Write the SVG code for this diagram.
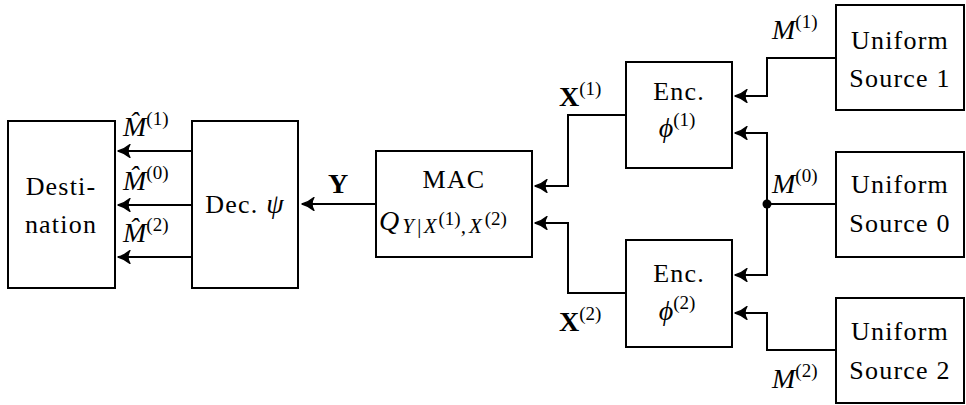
<svg xmlns="http://www.w3.org/2000/svg" width="966" height="405" viewBox="0 0 966 405">
<style>
.box{fill:#fff;stroke:#000;stroke-width:2}
.ln{fill:none;stroke:#000;stroke-width:2}
.t{font-family:"Liberation Serif",serif;font-size:26px;letter-spacing:1.2px;fill:#000}
.m{font-family:"Liberation Serif",serif;font-size:28px;font-style:italic;fill:#000}
.up{font-style:normal;font-weight:normal;font-size:19px;letter-spacing:0}
.b{font-family:"Liberation Serif",serif;font-size:28px;font-weight:bold;fill:#000}
</style>
<defs>
<marker id="ah" viewBox="-13 -7 14 14" refX="0" refY="0" markerWidth="14" markerHeight="14" markerUnits="userSpaceOnUse" orient="auto">
<path d="M0,0 Q-6,-1.5 -12,-6.5 Q-8,0 -12,6.5 Q-6,1.5 0,0 Z" fill="#000" stroke="#000" stroke-width="1.3" stroke-linejoin="round"/>
</marker>
</defs>
<rect width="966" height="405" fill="#fff"/>
<g id="connectors">
<line class="ln" x1="192" y1="151" x2="118" y2="151" marker-end="url(#ah)"/>
<line class="ln" x1="192" y1="205" x2="118" y2="205" marker-end="url(#ah)"/>
<line class="ln" x1="192" y1="257" x2="118" y2="257" marker-end="url(#ah)"/>
<line class="ln" x1="376" y1="204" x2="302" y2="204" marker-end="url(#ah)"/>
<polyline class="ln" points="626,115 568,115 568,186 535,186" marker-end="url(#ah)"/>
<polyline class="ln" points="626,293 568,293 568,223 535,223" marker-end="url(#ah)"/>
<polyline class="ln" points="836,58 767,58 767,96 735,96" marker-end="url(#ah)"/>
<polyline class="ln" points="767,204 767,133 735,133" marker-end="url(#ah)"/>
<polyline class="ln" points="767,204 767,275 735,275" marker-end="url(#ah)"/>
<line class="ln" x1="836" y1="204" x2="767" y2="204"/>
<polyline class="ln" points="836,350 767,350 767,313 735,313" marker-end="url(#ah)"/>
<circle cx="767" cy="204" r="4.5" fill="#000"/>
<text class="m" x="123" y="136">M̂<tspan class="up" dy="-11">(1)</tspan></text>
<text class="m" x="123" y="190">M̂<tspan class="up" dy="-11">(0)</tspan></text>
<text class="m" x="123" y="242">M̂<tspan class="up" dy="-11">(2)</tspan></text>
<text class="b" x="338" y="193" text-anchor="middle">Y</text>
<text class="b" x="559" y="106">X<tspan class="up" dy="-11">(1)</tspan></text>
<text class="b" x="559" y="331">X<tspan class="up" dy="-11">(2)</tspan></text>
<text class="m" x="772" y="39">M<tspan class="up" dy="-11">(1)</tspan></text>
<text class="m" x="772" y="193">M<tspan class="up" dy="-11">(0)</tspan></text>
<text class="m" x="772" y="388">M<tspan class="up" dy="-11">(2)</tspan></text>
</g>
<g id="destination">
<rect class="box" x="8" y="121" width="107" height="167"/>
<text class="t" x="61" y="195" text-anchor="middle">Desti-</text>
<text class="t" x="61" y="233" text-anchor="middle">nation</text>
</g>
<g id="decoder">
<rect class="box" x="192" y="121" width="106" height="167"/>
<text class="t" x="245" y="213" text-anchor="middle">Dec. <tspan font-style="italic" font-size="28">ψ</tspan></text>
</g>
<g id="mac">
<rect class="box" x="376" y="151" width="156" height="106"/>
<text class="t" x="454" y="188" text-anchor="middle">MAC</text>
<text class="m" x="379" y="230" font-size="31">Q<tspan font-size="21" dy="3" dx="3" letter-spacing="2">Y|X</tspan><tspan class="up" font-size="15" dy="-8" letter-spacing="1">(1)</tspan><tspan font-size="21" dy="8" letter-spacing="3">,X</tspan><tspan class="up" font-size="15" dy="-8" letter-spacing="1">(2)</tspan></text>
</g>
<g id="enc1">
<rect class="box" x="626" y="62" width="106" height="106"/>
<text class="t" x="679" y="100" text-anchor="middle">Enc.</text>
<text class="m" x="677" y="137" text-anchor="middle">ϕ<tspan class="up" dy="-11">(1)</tspan></text>
</g>
<g id="enc2">
<rect class="box" x="626" y="240" width="106" height="107"/>
<text class="t" x="679" y="282" text-anchor="middle">Enc.</text>
<text class="m" x="677" y="320" text-anchor="middle">ϕ<tspan class="up" dy="-11">(2)</tspan></text>
</g>
<g id="source1">
<rect class="box" x="836" y="5" width="128" height="105"/>
<text class="t" x="900" y="49" text-anchor="middle">Uniform</text>
<text class="t" x="900" y="87" text-anchor="middle">Source 1</text>
</g>
<g id="source0">
<rect class="box" x="836" y="152" width="128" height="105"/>
<text class="t" x="900" y="193" text-anchor="middle">Uniform</text>
<text class="t" x="900" y="232" text-anchor="middle">Source 0</text>
</g>
<g id="source2">
<rect class="box" x="836" y="298" width="128" height="105"/>
<text class="t" x="900" y="340" text-anchor="middle">Uniform</text>
<text class="t" x="900" y="379" text-anchor="middle">Source 2</text>
</g>
</svg>
